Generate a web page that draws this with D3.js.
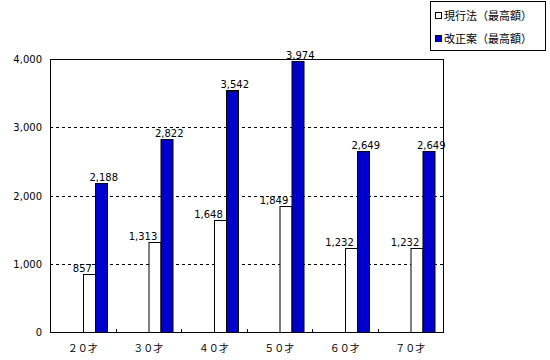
<!DOCTYPE html>
<html>
<head>
<meta charset="utf-8">
<script src="https://cdn.jsdelivr.net/npm/d3@7"></script>
<style>
  body { margin: 0; background: #fff; }
  text { font-family: "Noto Sans CJK JP", "DejaVu Sans", sans-serif; fill: #000; }
  .num { font-family: "DejaVu Sans", sans-serif; }
</style>
</head>
<body>
<div id="chart"></div>
<script>
// データ
const categories = ["２０才", "３０才", "４０才", "５０才", "６０才", "７０才"];
const seriesNames = ["現行法（最高額）", "改正案（最高額）"];
const currentLaw = [857, 1313, 1648, 1849, 1232, 1232];
const proposal = [2188, 2822, 3542, 3974, 2649, 2649];
const yTicks = [0, 1000, 2000, 3000, 4000];

const width = 550, height = 360;
const plot = { left: 50, top: 59, right: 443, bottom: 332 };

const svg = d3.select("#chart").append("svg")
  .attr("width", width).attr("height", height);

const x = d3.scaleBand().domain(categories).range([plot.left, plot.right]);
// 各カテゴリ内の棒位置（右寄り）
const x1 = d3.scaleBand().domain(seriesNames)
  .range([x.bandwidth() * 0.505, x.bandwidth() * 0.865]);
const y = d3.scaleLinear().domain([0, 4000]).range([plot.bottom, plot.top]);

const colors = ["#ffffff", "#0000cc"];

// グリッド線
svg.append("g").selectAll("line")
  .data(yTicks.filter(d => d > 0 && d < 4000))
  .enter().append("line")
  .attr("x1", plot.left).attr("x2", plot.right)
  .attr("y1", d => Math.round(y(d)) + 0.5).attr("y2", d => Math.round(y(d)) + 0.5)
  .attr("stroke", "#000").attr("stroke-dasharray", "3,3");

// 棒
const data = categories.map((c, i) => ({ cat: c, vals: [currentLaw[i], proposal[i]] }));
const groups = svg.append("g").selectAll("g")
  .data(data).enter().append("g")
  .attr("transform", d => `translate(${x(d.cat)},0)`);

groups.selectAll("rect")
  .data(d => d.vals.map((v, j) => ({ v, j })))
  .enter().append("rect")
  .attr("x", d => Math.round(x1(seriesNames[d.j])) + 0.5)
  .attr("y", d => Math.round(y(d.v)) + 0.5)
  .attr("width", Math.round(x1.bandwidth()))
  .attr("height", d => plot.bottom - Math.round(y(d.v)))
  .attr("fill", d => colors[d.j])
  .attr("stroke", "#000").attr("stroke-width", 1);

// データラベル
groups.selectAll("text.lbl")
  .data(d => d.vals.map((v, j) => ({ v, j })))
  .enter().append("text")
  .attr("class", "lbl num")
  .attr("x", d => d.j === 0
    ? x1(seriesNames[0]) + x1.bandwidth() - 3
    : x1(seriesNames[1]) + x1.bandwidth() / 2 + 3)
  .attr("y", d => y(d.v) - 2)
  .attr("text-anchor", d => d.j === 0 ? "end" : "middle")
  .attr("font-size", "10px")
  .text(d => d3.format(",")(d.v));

// 枠線
svg.append("rect")
  .attr("x", plot.left + 0.5).attr("y", plot.top + 0.5)
  .attr("width", plot.right - plot.left).attr("height", plot.bottom - plot.top)
  .attr("fill", "none").attr("stroke", "#000").attr("stroke-width", 1);

// Y軸
const yAxis = svg.append("g").attr("transform", `translate(${plot.left},0.5)`)
  .call(d3.axisLeft(y).tickValues(yTicks).tickFormat(d3.format(",")).tickSize(0).tickPadding(8));
yAxis.select(".domain").remove();
yAxis.selectAll("text").attr("class", "num").attr("font-size", "10px").style("font-family", null);

// X軸
const xAxis = svg.append("g").attr("transform", `translate(0,${plot.bottom + 0.5})`)
  .call(d3.axisBottom(x).tickSize(0).tickPadding(12));
xAxis.select(".domain").remove();
xAxis.selectAll("text").attr("font-size", "10px").style("font-family", null);

// カテゴリ境界の目盛り
svg.append("g").selectAll("line")
  .data(categories.slice(1))
  .enter().append("line")
  .attr("x1", d => Math.round(x(d)) + 0.5).attr("x2", d => Math.round(x(d)) + 0.5)
  .attr("y1", plot.bottom).attr("y2", plot.bottom - 3)
  .attr("stroke", "#000");

// 凡例
const legend = svg.append("g");
legend.append("rect")
  .attr("x", 430.5).attr("y", 1.5).attr("width", 115).attr("height", 49)
  .attr("fill", "#fff").attr("stroke", "#000");
const items = legend.selectAll("g").data(seriesNames).enter().append("g")
  .attr("transform", (d, i) => `translate(435,${16 + i * 23})`);
items.append("rect")
  .attr("x", 0.5).attr("y", -3.5).attr("width", 6).attr("height", 6)
  .attr("fill", (d, i) => colors[i]).attr("stroke", "#000");
items.append("text")
  .attr("x", 9).attr("y", 4)
  .attr("font-size", "11px")
  .text(d => d);
</script>
</body>
</html>
